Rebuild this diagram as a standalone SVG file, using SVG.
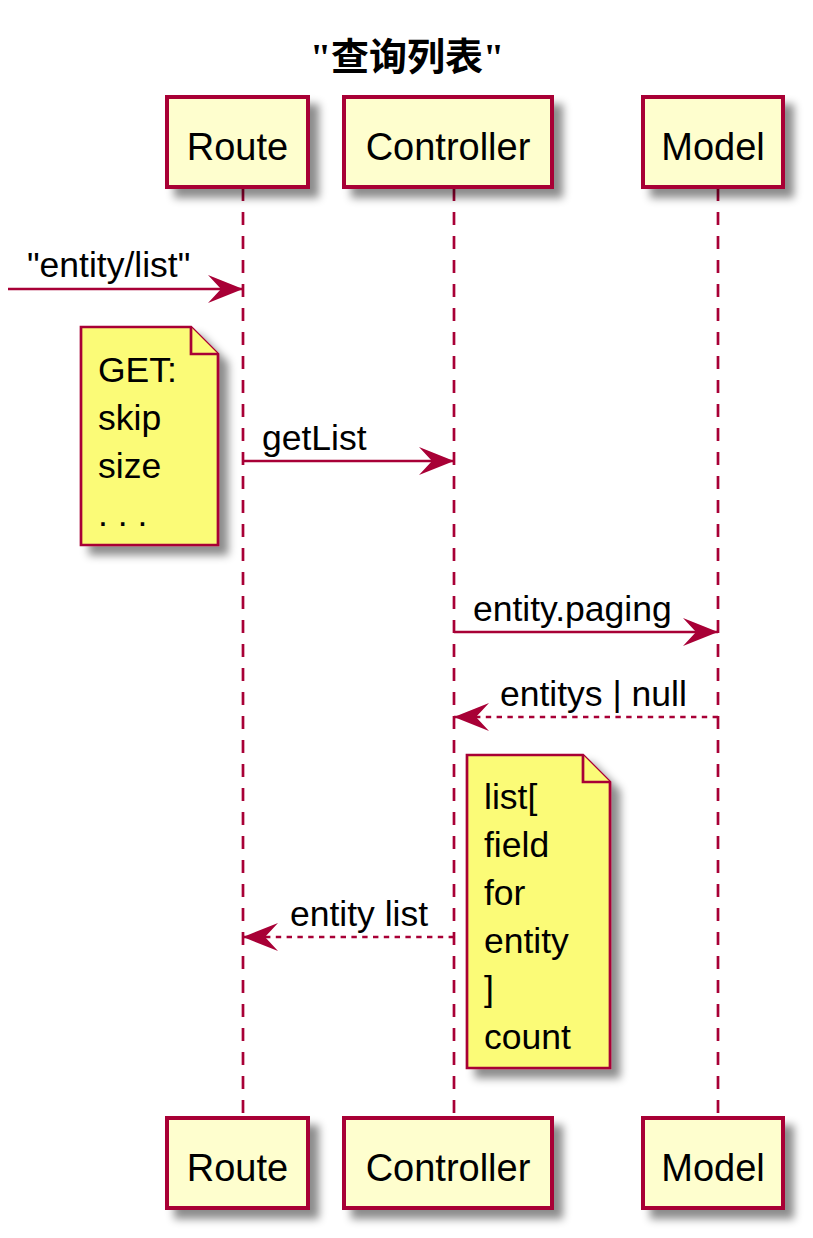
<svg xmlns="http://www.w3.org/2000/svg" width="813" height="1238" viewBox="0 0 813 1238">
<defs>
<filter id="sh" x="-20%" y="-20%" width="150%" height="150%">
<feGaussianBlur in="SourceAlpha" stdDeviation="4"/>
<feColorMatrix type="matrix" values="0 0 0 0 0  0 0 0 0 0  0 0 0 0 0  0 0 0 0.45 0"/>
<feOffset dx="9" dy="9" result="b"/>
<feMerge><feMergeNode in="b"/><feMergeNode in="SourceGraphic"/></feMerge>
</filter>
<marker id="ah" markerUnits="userSpaceOnUse" markerWidth="40" markerHeight="32" refX="35" refY="14" orient="auto">
<polygon points="0,0 35,14 0,28 13,14" fill="#A80036"/>
</marker>
</defs>
<style>
.p{fill:#FEFECE;stroke:#A80036;stroke-width:4}
.pt{font-family:"Liberation Sans",Arial,sans-serif;font-size:38px;fill:#000;text-anchor:middle}
.ll{stroke:#A80036;stroke-width:2.7;stroke-dasharray:13,11;fill:none}
.m{stroke:#A80036;stroke-width:2.7;fill:none}
.d{stroke-dasharray:5.4,5.4}
.t{font-family:"Liberation Sans",Arial,sans-serif;font-size:35.5px;fill:#000}
.n{fill:#FBFB77;stroke:#A80036;stroke-width:2.7}
</style>
<rect width="813" height="1238" fill="#fff"/>
<text x="407" y="70" text-anchor="middle" font-family="'Liberation Serif','Noto Sans CJK SC',serif" font-weight="bold" font-size="38">"查询列表"</text>
<g id="lifelines">
<line class="ll" x1="243" y1="188" x2="243" y2="1118"/>
<line class="ll" x1="454" y1="188" x2="454" y2="1118"/>
<line class="ll" x1="718" y1="188" x2="718" y2="1118"/>
</g>
<g id="Route">
<rect class="p" x="167" y="97" width="141" height="90" filter="url(#sh)"/>
<text class="pt" x="237.5" y="160">Route</text>
<rect class="p" x="167" y="1118" width="141" height="90" filter="url(#sh)"/>
<text class="pt" x="237.5" y="1181">Route</text>
</g>
<g id="Controller">
<rect class="p" x="344" y="97" width="208" height="90" filter="url(#sh)"/>
<text class="pt" x="448" y="160">Controller</text>
<rect class="p" x="344" y="1118" width="208" height="90" filter="url(#sh)"/>
<text class="pt" x="448" y="1181">Controller</text>
</g>
<g id="Model">
<rect class="p" x="643" y="97" width="140" height="90" filter="url(#sh)"/>
<text class="pt" x="713" y="160">Model</text>
<rect class="p" x="643" y="1118" width="140" height="90" filter="url(#sh)"/>
<text class="pt" x="713" y="1181">Model</text>
</g>
<g id="note1">
<path class="n" d="M81,327 L191,327 L218,354 L218,545 L81,545 Z" filter="url(#sh)"/>
<path class="n" d="M191,327 L191,354 L218,354"/>
<text class="t" x="98" y="382">GET:</text>
<text class="t" x="98" y="430">skip</text>
<text class="t" x="98" y="478">size</text>
<text class="t" x="98" y="526">. . .</text>
</g>
<g id="note2">
<path class="n" d="M467,755 L583,755 L610,782 L610,1068 L467,1068 Z" filter="url(#sh)"/>
<path class="n" d="M583,755 L583,782 L610,782"/>
<text class="t" x="484" y="809">list[</text>
<text class="t" x="484" y="857">field</text>
<text class="t" x="484" y="905">for</text>
<text class="t" x="484" y="953">entity</text>
<text class="t" x="484" y="1001">]</text>
<text class="t" x="484" y="1049">count</text>
</g>
<g id="connectors">
<line class="m" x1="8" y1="289" x2="243" y2="289" marker-end="url(#ah)"/>
<text class="t" x="27" y="277">"entity/list"</text>
<line class="m" x1="243" y1="461" x2="454" y2="461" marker-end="url(#ah)"/>
<text class="t" x="262" y="450">getList</text>
<line class="m" x1="454" y1="632" x2="718" y2="632" marker-end="url(#ah)"/>
<text class="t" x="473" y="621">entity.paging</text>
<line class="m d" x1="718" y1="717" x2="454" y2="717" marker-end="url(#ah)"/>
<text class="t" x="500" y="706">entitys | null</text>
<line class="m d" x1="454" y1="937" x2="243" y2="937" marker-end="url(#ah)"/>
<text class="t" x="290" y="926">entity list</text>
</g>
</svg>
